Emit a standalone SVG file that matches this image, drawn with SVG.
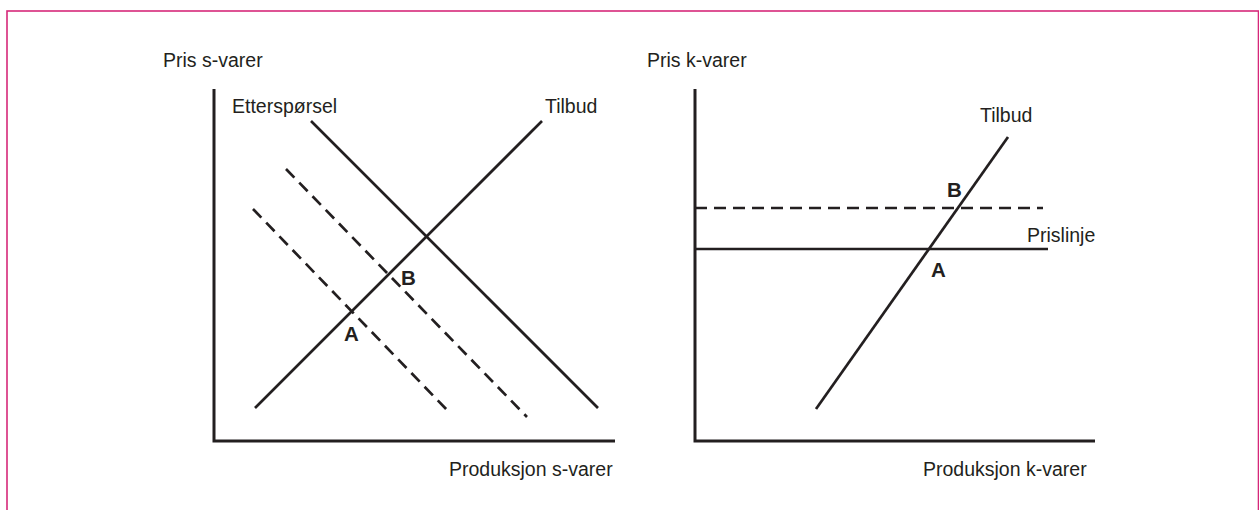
<svg xmlns="http://www.w3.org/2000/svg" width="1259" height="510" viewBox="0 0 1259 510">
<style>
.t{font-family:"Liberation Sans",Arial,sans-serif;font-size:19.5px;fill:#231f20}
.b{font-family:"Liberation Sans",Arial,sans-serif;font-size:20.5px;font-weight:bold;fill:#231f20}
.ax{stroke:#231f20;stroke-width:3;fill:none}
.ln{stroke:#231f20;stroke-width:2.7;fill:none}
.ds{stroke:#231f20;stroke-width:2.7;fill:none;stroke-dasharray:12 7}
</style>
<rect x="0" y="0" width="1259" height="510" fill="#ffffff"/>
<rect x="7" y="11" width="1251.5" height="520" fill="none" stroke="#d6287a" stroke-width="1.6"/>
<g id="left-chart">
<g id="left-axes">
<polyline class="ax" points="214,89 214,441 615,441"/>
<text class="t" x="163" y="67">Pris s-varer</text>
<text class="t" x="449" y="476">Produksjon s-varer</text>
</g>
<g id="left-curves">
<line id="demand" class="ln" x1="311" y1="121" x2="598" y2="408"/>
<line id="supply-left" class="ln" x1="255" y1="408" x2="542" y2="121"/>
<line id="demand-dash1" class="ds" x1="286" y1="169" x2="527" y2="417"/>
<line id="demand-dash2" class="ds" x1="253" y1="209" x2="448" y2="411"/>
</g>
<g id="left-labels">
<text class="t" x="232" y="113">Etterspørsel</text>
<text class="t" x="545" y="113">Tilbud</text>
<text class="b" x="401" y="285">B</text>
<text class="b" x="344" y="341">A</text>
</g>
</g>
<g id="right-chart">
<g id="right-axes">
<polyline class="ax" points="695,89 695,441 1095,441"/>
<text class="t" x="647" y="67">Pris k-varer</text>
<text class="t" x="923" y="476">Produksjon k-varer</text>
</g>
<g id="right-curves">
<line id="supply-right" class="ln" x1="816" y1="409" x2="1008" y2="137"/>
<line id="price-dash" class="ds" x1="695" y1="208" x2="1043" y2="208"/>
<line id="price-line" class="ln" x1="695" y1="249" x2="1048" y2="249"/>
</g>
<g id="right-labels">
<text class="t" x="980" y="122">Tilbud</text>
<text class="t" x="1027" y="242">Prislinje</text>
<text class="b" x="947" y="197">B</text>
<text class="b" x="931" y="277">A</text>
</g>
</g>
</svg>
